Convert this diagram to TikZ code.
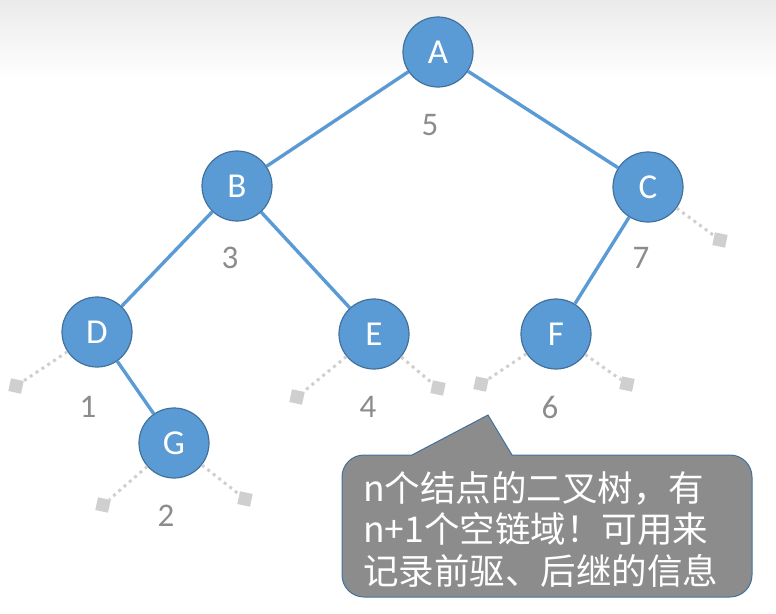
\documentclass[tikz,border=0pt]{standalone}
\usepackage{fontspec}
\setmainfont{Carlito}
\newfontfamily\cjk{Noto Sans CJK SC}
\definecolor{nodeblue}{HTML}{5B9BD5}
\definecolor{nodeedge}{HTML}{41719C}
\definecolor{numgray}{HTML}{8C8C8C}
\definecolor{nullgray}{HTML}{CFCFCF}
\definecolor{callgray}{HTML}{8C8C8C}
\begin{document}
\begin{tikzpicture}[x=1pt,y=-1pt,
  tnode/.style={circle,fill=nodeblue,draw=nodeedge,line width=1.2pt,minimum size=70pt,inner sep=0pt,
    text=white,font=\fontsize{35}{35}\selectfont},
  tedge/.style={draw=nodeblue,line width=3.4pt},
  numlab/.style={text=numgray,font=\fontsize{33}{33}\selectfont,inner sep=0pt},
  nullsq/.style={rectangle,fill=nullgray,minimum size=13pt,inner sep=0pt,rotate=-12},
  nulledge/.style={draw=nullgray,line width=3pt,dash pattern=on 3pt off 4pt},
  calltext/.style={text=white,font=\cjk\fontsize{35.5}{42}\selectfont,inner sep=0pt,anchor=base west}
]
\useasboundingbox (0,0) rectangle (776,613);
\shade[top color=black!8,bottom color=white] (0,0) rectangle (776,80);
% nodes
\node[tnode] (A) at (438,52) {A};
\node[tnode] (B) at (237,186) {B};
\node[tnode] (C) at (648,187) {C};
\node[tnode] (D) at (97,332) {D};
\node[tnode] (E) at (374,334) {E};
\node[tnode] (F) at (556,334) {F};
\node[tnode] (G) at (174,443) {G};
% null squares
\node[nullsq] (nD) at (16,386) {};
\node[nullsq] (nGl) at (103,505) {};
\node[nullsq] (nGr) at (245,499) {};
\node[nullsq] (nEl) at (297,397) {};
\node[nullsq] (nEr) at (438,388) {};
\node[nullsq] (nFl) at (481,384) {};
\node[nullsq] (nFr) at (627,384) {};
\node[nullsq] (nC) at (720,240) {};
% edges
\path[tedge] (A) -- (B);
\path[tedge] (A) -- (C);
\path[tedge] (B) -- (D);
\path[tedge] (B) -- (E);
\path[tedge] (C) -- (F);
\path[tedge] (D) -- (G);
% null links
\path[nulledge] (D) -- (nD);
\path[nulledge] (G) -- (nGl);
\path[nulledge] (G) -- (nGr);
\path[nulledge] (E) -- (nEl);
\path[nulledge] (E) -- (nEr);
\path[nulledge] (F) -- (nFl);
\path[nulledge] (F) -- (nFr);
\path[nulledge] (C) -- (nC);
% numbers
\node[numlab] (l5) at (430,125) {5};
\node[numlab] (l3) at (230,258) {3};
\node[numlab] (l7) at (641,258) {7};
\node[numlab] (l1) at (88,407) {1};
\node[numlab] (l4) at (368,407) {4};
\node[numlab] (l6) at (550,407) {6};
\node[numlab] (l2) at (166,516) {2};
% callout
\path[fill=callgray,draw=nodeedge,line width=1pt]
  (412,455) -- (488,415) -- (512,455) [rounded corners=22pt] -- (752,455) -- (752,597) -- (342,597) -- (342,455) [sharp corners] -- (412,455) -- cycle;
\node[calltext] (t1) at (363,501) {n个结点的二叉树，有};
\node[calltext] (t2) at (363,542) {n+1个空链域！可用来};
\node[calltext] (t3) at (363,584) {记录前驱、后继的信息};
\end{tikzpicture}
\end{document}
